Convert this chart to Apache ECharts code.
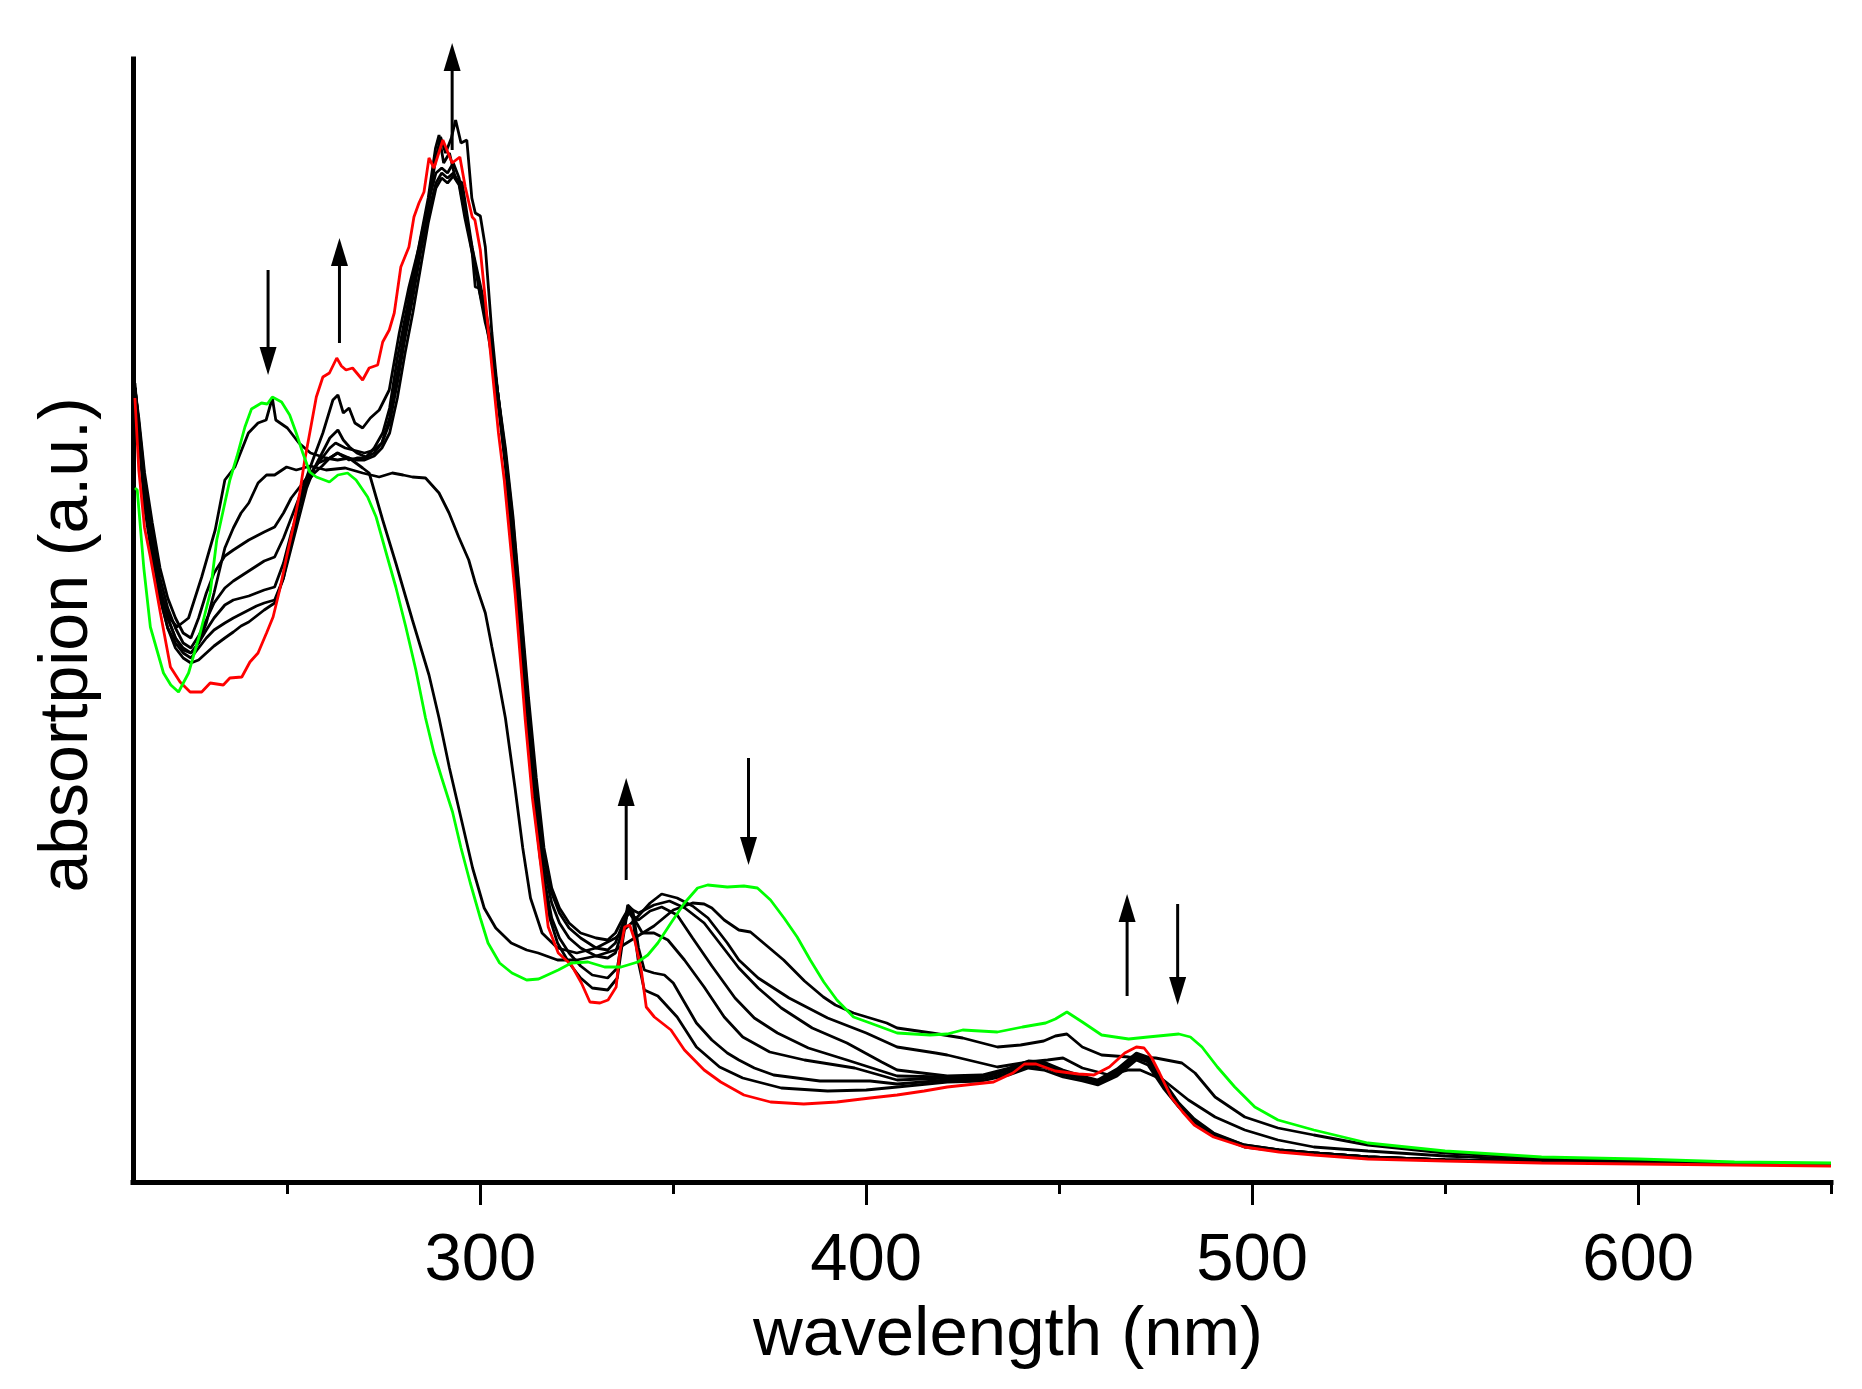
<!DOCTYPE html>
<html lang="en">
<head>
    <meta charset="UTF-8">
    <title>absorption spectra</title>
    <script src="https://cdn.jsdelivr.net/npm/echarts@6.0.0/dist/echarts.min.js"></script>
    <style>
        html, body { margin: 0; padding: 0; background: #ffffff; }
        #main { width: 1862px; height: 1389px; }
    </style>
</head>
<body>
<div id="main"></div>
<script type="text/javascript">
    // [wavelength nm, absorbance a.u.]
    var spectrumRed = [[210.5,0.790],[211.5,0.718],[213,0.66],[214.5,0.631],[217.1,0.575],[219.7,0.521],[222.2,0.506],[224.8,0.496],[227.8,0.496],[230,0.505],[233.4,0.503],[235.1,0.510],[238.2,0.511],[240.3,0.526],[242.4,0.535],[244.6,0.555],[246.3,0.571],[248,0.598],[249.8,0.631],[251.5,0.661],[253.2,0.695],[254.5,0.728],[255.8,0.755],[257.5,0.791],[259.2,0.811],[260.9,0.815],[262.8,0.830],[264,0.822],[265.2,0.818],[266.9,0.820],[269.5,0.808],[271.2,0.820],[273.4,0.823],[274.7,0.846],[276.4,0.858],[277.7,0.875],[279.4,0.921],[281.5,0.941],[282.8,0.971],[284.1,0.985],[285.4,0.996],[286.7,1.030],[288,1.020],[290.3,1.048],[292.7,1.025],[294.7,1.031],[296.1,1.001],[297.9,0.971],[298.6,0.968],[300,0.938],[301.3,0.888],[303,0.821],[304.7,0.755],[306.2,0.708],[309,0.595],[311.6,0.470],[313.5,0.39],[315.5,0.328],[317.6,0.261],[320.2,0.235],[323.6,0.223],[326.2,0.205],[328.4,0.186],[331,0.185],[333.1,0.188],[335.2,0.201],[336.1,0.235],[337.4,0.261],[338.7,0.263],[340,0.248],[341.7,0.218],[343,0.181],[345.1,0.171],[349.4,0.158],[352.9,0.138],[358,0.118],[362.3,0.106],[368.3,0.093],[375.2,0.086],[383.8,0.084],[392.4,0.086],[401,0.090],[408,0.093],[415,0.097],[421,0.101],[433,0.106],[438,0.115],[441,0.124],[444,0.124],[449,0.117],[455,0.114],[459,0.113],[463,0.121],[467,0.135],[470,0.141],[472,0.140],[474,0.130],[476,0.115],[479,0.091],[482,0.076],[485,0.063],[490,0.051],[498,0.041],[507,0.036],[516,0.033],[530,0.029],[550,0.027],[575,0.025],[600,0.024],[625,0.023],[650,0.022]];

    var spectrumK1 = [[210.5,0.805],[211.5,0.76],[213,0.70],[215,0.64],[217,0.59],[219,0.56],[221,0.54],[223,0.53],[225,0.525],[227,0.528],[229,0.535],[231,0.542],[233.8,0.55],[236,0.556],[238,0.562],[240,0.566],[242,0.572],[244,0.578],[246.7,0.585],[249,0.61],[250.5,0.64],[252.3,0.668],[254,0.70],[256.6,0.728],[259.2,0.755],[261.8,0.788],[263.1,0.793],[264.5,0.775],[266,0.78],[267.5,0.765],[269.5,0.760],[271.5,0.77],[273.8,0.778],[276.4,0.798],[279,0.855],[281.5,0.901],[284.1,0.941],[286.7,0.988],[288.4,1.028],[289.7,1.051],[291,1.035],[292.5,1.05],[293.6,1.068],[295,1.045],[296.5,1.048],[297.8,0.99],[298.7,0.975],[300,0.972],[301.3,0.941],[303,0.855],[304.7,0.788],[306.5,0.721],[309,0.61],[311.5,0.49],[313.5,0.40],[315.5,0.33],[318,0.27],[320,0.245],[323,0.225],[326,0.21],[329,0.2],[333,0.198],[335.5,0.21],[337,0.25],[338.2,0.278],[339.5,0.27],[341,0.225],[342.5,0.198],[346,0.192],[351,0.171],[356,0.141],[362,0.121],[368,0.11],[378,0.1],[390,0.097],[400,0.098],[408,0.101],[421,0.106],[430,0.107],[437,0.113],[442,0.12],[446,0.118],[451,0.111],[456,0.107],[460,0.103],[465,0.112],[470,0.128],[473,0.123],[477,0.1],[481,0.081],[485,0.065],[490,0.053],[498,0.041],[507,0.037],[516,0.035],[530,0.031],[550,0.028],[575,0.026],[600,0.025],[625,0.024],[650,0.023]];

    var spectrumK2 = [[210.5,0.80],[211.5,0.755],[213,0.695],[215,0.635],[217,0.59],[219,0.56],[221,0.545],[223,0.535],[225,0.53],[227,0.54],[229,0.55],[231,0.558],[233.8,0.565],[236,0.57],[238,0.574],[240,0.578],[242,0.582],[244,0.585],[246.7,0.588],[249,0.61],[251,0.64],[253,0.67],[255,0.70],[257,0.72],[259,0.735],[261,0.75],[263.1,0.758],[264.5,0.748],[266.1,0.741],[268,0.735],[270.4,0.731],[272.5,0.74],[274.7,0.755],[276.5,0.78],[278.5,0.83],[280.5,0.87],[282.5,0.91],[284.5,0.95],[286.5,0.99],[288.4,1.04],[289.3,1.053],[290.5,1.025],[292,1.035],[293.5,1.01],[295.3,1.005],[296.5,0.975],[297.9,0.94],[299.6,0.90],[301.3,0.865],[303,0.84],[304.7,0.79],[306.5,0.73],[308.5,0.66],[310.5,0.56],[312.5,0.46],[314.5,0.38],[316.5,0.31],[318.5,0.27],[320.5,0.25],[323,0.235],[326,0.222],[329,0.213],[333,0.21],[335.5,0.22],[337,0.255],[338.2,0.283],[339.5,0.278],[341,0.24],[342.5,0.218],[345,0.215],[347.7,0.213],[350,0.205],[353,0.185],[356,0.165],[360,0.148],[364,0.135],[367,0.128],[371,0.12],[376,0.113],[388,0.107],[401,0.107],[408,0.104],[421,0.108],[430,0.109],[437,0.115],[442,0.122],[446,0.121],[451,0.113],[456,0.109],[460,0.105],[465,0.114],[470,0.13],[473,0.126],[477,0.102],[481,0.082],[485,0.066],[490,0.053],[498,0.042],[507,0.037],[516,0.035],[530,0.031],[550,0.028],[575,0.026],[600,0.025],[625,0.024],[650,0.023]];

    var spectrumK3 = [[210.5,0.80],[211.5,0.76],[213,0.70],[215,0.645],[217,0.6],[219,0.57],[221,0.55],[223,0.54],[225,0.535],[227,0.545],[229,0.558],[231,0.57],[233.8,0.583],[236,0.588],[238,0.59],[240,0.592],[242,0.595],[244,0.598],[246.7,0.601],[249,0.625],[251,0.655],[253,0.68],[255,0.705],[257,0.72],[259,0.73],[261,0.74],[262.5,0.745],[265,0.74],[268,0.737],[270,0.735],[272.5,0.738],[274.5,0.745],[276.5,0.77],[278.5,0.815],[280.5,0.86],[282.5,0.9],[284.5,0.945],[286.5,0.985],[288.5,1.015],[290,1.02],[291.5,1.015],[293,1.025],[294.5,1.01],[296,0.98],[297.9,0.935],[298.7,0.901],[299.6,0.9],[301.3,0.871],[303,0.83],[304.7,0.78],[306.5,0.725],[308.5,0.655],[310.5,0.56],[312.5,0.47],[314.5,0.39],[316.5,0.32],[318.5,0.285],[320.5,0.265],[323,0.25],[326,0.24],[330,0.232],[333,0.23],[335,0.235],[337,0.26],[338.5,0.28],[340.5,0.265],[342,0.255],[345,0.255],[348.6,0.248],[352.9,0.228],[358,0.201],[363.2,0.171],[368,0.151],[375,0.136],[384,0.128],[397,0.12],[408,0.108],[421,0.110],[430,0.111],[437,0.117],[442,0.124],[446,0.123],[451,0.115],[456,0.11],[460,0.106],[465,0.116],[470,0.132],[473,0.128],[477,0.104],[481,0.083],[485,0.067],[490,0.054],[498,0.042],[507,0.038],[516,0.035],[530,0.031],[550,0.028],[575,0.026],[600,0.025],[625,0.024],[650,0.023]];

    var spectrumK4 = [[210.5,0.80],[211.5,0.765],[213,0.71],[215,0.655],[217,0.61],[219,0.58],[221,0.56],[223,0.545],[225,0.54],[227,0.552],[229,0.568],[231,0.585],[233.8,0.6],[236,0.607],[238,0.612],[240,0.617],[242,0.622],[244,0.627],[246.7,0.631],[249,0.65],[251,0.67],[253,0.69],[255,0.705],[257,0.715],[259,0.722],[261,0.73],[263,0.735],[266,0.728],[268,0.73],[270,0.73],[272.5,0.735],[274.5,0.745],[276.5,0.765],[278.5,0.805],[280.5,0.85],[282.5,0.89],[284.5,0.935],[286.5,0.975],[288.5,1.005],[290,1.015],[291.5,1.01],[293,1.015],[294.5,1.005],[296,0.975],[297.9,0.94],[299.6,0.91],[301.3,0.88],[303,0.84],[304.7,0.79],[306.5,0.735],[308.5,0.665],[310.5,0.575],[312.5,0.48],[314.5,0.40],[316.5,0.33],[318.5,0.295],[320.5,0.275],[323,0.26],[326,0.25],[330,0.24],[333,0.238],[335,0.245],[337,0.265],[338.5,0.275],[341,0.268],[344,0.277],[347,0.281],[351,0.273],[355,0.25],[360,0.222],[366,0.19],[371,0.17],[377,0.155],[385,0.14],[395,0.128],[408,0.112],[421,0.111],[430,0.112],[437,0.119],[442,0.126],[446,0.125],[451,0.116],[456,0.111],[460,0.107],[465,0.118],[470,0.134],[473,0.13],[477,0.106],[481,0.084],[485,0.068],[490,0.054],[498,0.043],[507,0.038],[516,0.035],[530,0.031],[550,0.028],[575,0.026],[600,0.025],[625,0.024],[650,0.023]];

    var spectrumK5 = [[210.5,0.80],[211.5,0.77],[213,0.715],[215,0.665],[217,0.62],[219,0.59],[221,0.57],[223,0.555],[225,0.55],[227,0.57],[229,0.595],[231,0.615],[233.8,0.632],[236,0.638],[238,0.643],[240,0.648],[242,0.652],[244,0.656],[246.7,0.661],[249,0.675],[251,0.69],[253,0.70],[255,0.71],[258,0.725],[261,0.73],[263,0.735],[266,0.73],[268,0.728],[270,0.728],[272.5,0.732],[274.5,0.74],[276.5,0.755],[278.5,0.79],[280.5,0.835],[282.5,0.875],[284.5,0.92],[286.5,0.965],[288.5,1.0],[290,1.01],[291.5,1.005],[293,1.012],[294.5,1.003],[296,0.97],[297.9,0.935],[299.6,0.905],[301.3,0.875],[303,0.835],[304.7,0.79],[306.5,0.74],[308.5,0.67],[310.5,0.58],[312.5,0.49],[314.5,0.41],[316.5,0.34],[318.5,0.3],[320.5,0.28],[323,0.265],[326,0.255],[330,0.25],[333,0.248],[335,0.255],[337,0.27],[338.5,0.28],[341,0.275],[345,0.283],[349,0.287],[353,0.28],[358,0.265],[362,0.245],[367,0.22],[372,0.2],[378,0.18],[386,0.16],[395,0.145],[404,0.126],[408,0.118],[421,0.112],[430,0.113],[437,0.12],[442,0.127],[446,0.126],[451,0.118],[456,0.112],[460,0.108],[465,0.119],[470,0.135],[473,0.131],[477,0.107],[481,0.085],[485,0.069],[490,0.055],[498,0.043],[507,0.038],[516,0.035],[530,0.031],[550,0.028],[575,0.026],[600,0.025],[625,0.024],[650,0.023]];

    var spectrumK6 = [[210.5,0.80],[211.5,0.765],[213,0.705],[215,0.645],[217,0.6],[219,0.57],[221,0.55],[223,0.538],[225,0.535],[227,0.545],[229,0.565],[231,0.595],[233.8,0.64],[236,0.66],[238,0.675],[240,0.685],[242.4,0.705],[244.6,0.713],[246.7,0.713],[249.8,0.721],[252.3,0.718],[256,0.722],[260,0.718],[265,0.72],[269.5,0.715],[273.8,0.711],[277.2,0.715],[280,0.713],[282.4,0.711],[285.8,0.710],[289.3,0.695],[291.9,0.675],[294.4,0.651],[297,0.628],[298.7,0.605],[301.3,0.575],[303,0.541],[304.7,0.508],[306.5,0.470],[309,0.40],[311,0.34],[313,0.29],[316,0.255],[320,0.24],[325,0.235],[330,0.24],[335,0.25],[340,0.268],[344,0.285],[347,0.294],[351,0.29],[355,0.282],[359,0.27],[364,0.245],[367,0.228],[372,0.21],[380,0.19],[390,0.17],[400,0.155],[408,0.141],[418,0.135],[421,0.133],[434,0.121],[442,0.126],[447,0.128],[451,0.130],[456,0.120],[463,0.113],[468,0.118],[471,0.118],[477,0.108],[483.5,0.088],[490.4,0.071],[498.1,0.058],[506.7,0.048],[516,0.041],[530,0.037],[550,0.032],[575,0.028],[600,0.026],[625,0.025],[650,0.024]];

    var spectrumK7 = [[210.5,0.80],[211.5,0.75],[213,0.68],[215,0.63],[217.5,0.59],[219.5,0.57],[221.4,0.561],[224.4,0.570],[227.8,0.611],[231.3,0.658],[233.8,0.708],[236.4,0.721],[239.9,0.755],[242.4,0.765],[244.5,0.768],[246.1,0.79],[247,0.768],[250,0.76],[253,0.745],[256,0.735],[260,0.73],[263,0.728],[266,0.73],[269.5,0.72],[271.2,0.715],[274.7,0.668],[278.1,0.625],[282.4,0.568],[286.7,0.513],[289.3,0.470],[292,0.42],[295,0.37],[298,0.32],[301,0.28],[304,0.26],[308,0.245],[312,0.238],[315,0.235],[320,0.228],[325,0.228],[330,0.232],[335,0.238],[340,0.25],[345,0.262],[350,0.278],[355,0.285],[358,0.284],[360,0.280],[363.2,0.268],[367,0.258],[370,0.256],[374,0.243],[378.6,0.228],[384,0.207],[388.9,0.191],[392,0.183],[396.7,0.175],[401,0.17],[405.3,0.165],[408,0.160],[417,0.155],[425,0.150],[434,0.141],[440,0.143],[446,0.147],[449,0.152],[452,0.154],[456,0.141],[461,0.133],[468,0.131],[475,0.130],[481.8,0.125],[485.2,0.115],[490.4,0.091],[498.1,0.071],[506.7,0.060],[516,0.053],[530,0.043],[550,0.035],[575,0.030],[600,0.028],[625,0.025],[650,0.024]];

    var spectrumGreen = [[210.5,0.700],[211.1,0.698],[212.8,0.62],[214.5,0.561],[217.9,0.515],[219.8,0.503],[221.8,0.496],[224.4,0.515],[227.4,0.555],[230,0.595],[231.7,0.648],[233.4,0.678],[235.1,0.708],[236.9,0.731],[239,0.761],[240.7,0.779],[243.3,0.785],[244.8,0.784],[246.1,0.791],[248.5,0.786],[250.6,0.773],[252.3,0.755],[254,0.735],[255.8,0.716],[257.5,0.711],[260.9,0.706],[263.1,0.713],[265.6,0.715],[267.8,0.708],[270.8,0.691],[273,0.671],[275.9,0.631],[278.1,0.601],[280.7,0.561],[283.3,0.518],[285.8,0.470],[288,0.435],[290,0.41],[292.8,0.376],[295,0.34],[297.4,0.305],[300,0.27],[302,0.245],[305,0.225],[308.2,0.215],[312,0.208],[315.1,0.209],[320.2,0.218],[323.6,0.225],[327.9,0.226],[332.2,0.221],[336.5,0.221],[340.8,0.226],[343.4,0.233],[346,0.245],[349.4,0.265],[352.9,0.285],[356.3,0.300],[358.9,0.303],[364,0.301],[368.3,0.302],[371.8,0.300],[375.2,0.288],[378.7,0.270],[382.1,0.251],[385.5,0.228],[389,0.206],[392.4,0.188],[396.7,0.171],[401,0.165],[408,0.155],[416.5,0.153],[421,0.154],[425,0.158],[434,0.156],[440.5,0.161],[446.5,0.165],[449,0.169],[452,0.176],[456,0.166],[461,0.153],[468,0.149],[473,0.151],[481,0.154],[484,0.151],[487,0.141],[491,0.121],[495.5,0.101],[500.7,0.081],[506.7,0.068],[516,0.058],[530,0.045],[550,0.037],[575,0.031],[600,0.029],[625,0.026],[650,0.025]];

    // arrows: [wavelength, tail value, tip value]
    var arrowMarks = [[245.0,0.918,0.813],[263.5,0.845,0.950],[292.7,1.038,1.145],[337.8,0.308,0.410],[369.5,0.430,0.323],[467.6,0.192,0.294],[480.7,0.284,0.183]];

    var majorTicks = [300, 400, 500, 600];
    var minorTicks = [250, 350, 450, 550, 650];
    var blackSpectra = [spectrumK1, spectrumK2, spectrumK3, spectrumK4, spectrumK5, spectrumK6, spectrumK7];

    var fontName = '"Liberation Sans", Arial, sans-serif';
    var chart = echarts.init(document.getElementById('main'));

    function lineSeries(data, color, z) {
        return {
            type: 'line',
            data: data,
            showSymbol: false,
            symbol: 'none',
            z: z,
            lineStyle: { color: color, width: 2.8 },
            animation: false
        };
    }

    var series = [];
    blackSpectra.forEach(function (s) {
        series.push(lineSeries(s, '#000000', 2));
    });
    series.push(lineSeries(spectrumRed, '#ff0000', 3));
    series.push(lineSeries(spectrumGreen, '#00ff00', 4));

    chart.setOption({
        backgroundColor: '#ffffff',
        animation: false,
        grid: { left: 133, right: 31, top: 59, bottom: 207 },
        xAxis: [{
            type: 'value',
            min: 210,
            max: 650,
            position: 'bottom',
            splitLine: { show: false },
            axisLine: { lineStyle: { color: '#000', width: 5, cap: 'square' } },
            axisTick: { customValues: majorTicks, length: 23, lineStyle: { color: '#000', width: 3 } },
            axisLabel: {
                customValues: majorTicks,
                fontSize: 67,
                fontFamily: fontName,
                color: '#000',
                margin: 80,
                verticalAlign: 'middle'
            }
        }, {
            type: 'value',
            min: 210,
            max: 650,
            position: 'bottom',
            splitLine: { show: false },
            axisLine: { show: false },
            axisTick: { customValues: minorTicks, length: 12, lineStyle: { color: '#000', width: 3 } },
            axisLabel: { show: false }
        }],
        yAxis: {
            type: 'value',
            min: 0.006,
            max: 1.129,
            splitLine: { show: false },
            axisLine: { show: true, lineStyle: { color: '#000', width: 5, cap: 'square' } },
            axisTick: { show: false },
            axisLabel: { show: false }
        },
        series: series
    });

    // arrows and axis titles
    var graphics = [];
    arrowMarks.forEach(function (a) {
        var p0 = chart.convertToPixel({ xAxisIndex: 0, yAxisIndex: 0 }, [a[0], a[1]]);
        var p1 = chart.convertToPixel({ xAxisIndex: 0, yAxisIndex: 0 }, [a[0], a[2]]);
        var dir = p1[1] < p0[1] ? 1 : -1;
        var baseY = p1[1] + dir * 28;
        graphics.push({
            type: 'line', z: 10,
            shape: { x1: p0[0], y1: p0[1], x2: p1[0], y2: baseY },
            style: { stroke: '#000', lineWidth: 3 }
        });
        graphics.push({
            type: 'polygon', z: 10,
            shape: { points: [[p1[0], p1[1]], [p1[0] - 8.5, baseY], [p1[0] + 8.5, baseY]] },
            style: { fill: '#000' }
        });
    });
    graphics.push({
        type: 'text', z: 10,
        x: 1008, y: 1336,
        style: {
            text: 'wavelength (nm)', fill: '#000',
            fontSize: 69, fontFamily: fontName,
            align: 'center', verticalAlign: 'middle',
            textAlign: 'center', textVerticalAlign: 'middle'
        }
    });
    graphics.push({
        type: 'text', z: 10,
        x: 68, y: 645,
        rotation: Math.PI / 2,
        style: {
            text: 'absortpion (a.u.)', fill: '#000',
            fontSize: 68, fontFamily: fontName,
            align: 'center', verticalAlign: 'middle',
            textAlign: 'center', textVerticalAlign: 'middle'
        }
    });
    chart.setOption({ graphic: graphics });
</script>
</body>
</html>
